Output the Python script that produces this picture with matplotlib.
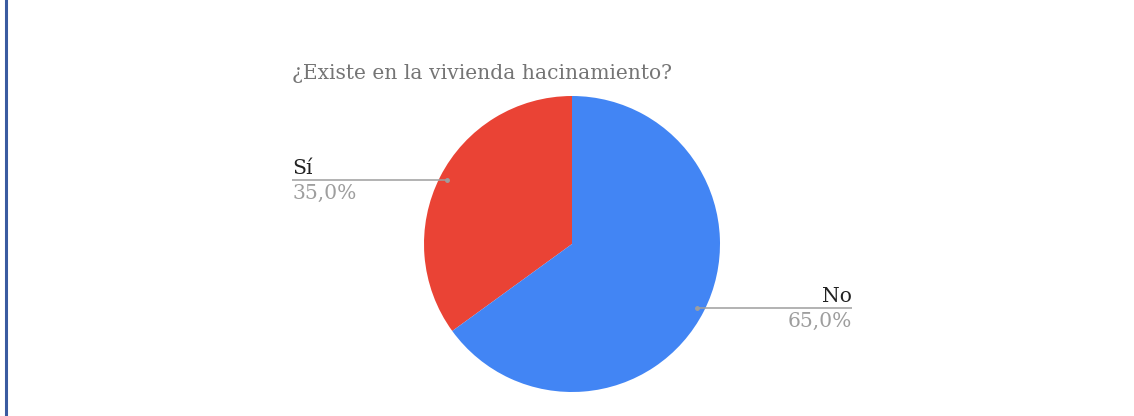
import numpy as np
import matplotlib.pyplot as plt

title = "¿Existe en la vivienda hacinamiento?"
labels = ["Sí", "No"]
values = [35.0, 65.0]
colors = ["#ea4335", "#4285f4"]

W, H = 1134, 416
cx, cy, R = 572, 244, 148  # pie centre and radius in pixels

fig = plt.figure(figsize=(W / 100, H / 100), dpi=100)
ax = fig.add_axes([0, 0, 1, 1])

wedges, _ = ax.pie(values, colors=colors, startangle=90, counterclock=True,
                   radius=1, center=(0, 0))

# data units: one unit = pie radius, origin at pie centre
ax.set_xlim(-cx / R, (W - cx) / R)
ax.set_ylim((cy - H) / R, cy / R)
ax.set_aspect("equal")
ax.axis("off")

serif = "DejaVu Serif"
fs = 14.6
ax.text(-1.89, (cy - 79) / R, title, fontsize=fs, color="#757575",
        family=serif, ha="left", va="baseline")

label_x = [-1.89, 1.89]
for w, lab, val, lx in zip(wedges, labels, values, label_x):
    mid = np.deg2rad((w.theta1 + w.theta2) / 2)
    px, py = 0.95 * np.cos(mid), 0.95 * np.sin(mid)
    ax.plot([px, lx], [py, py], color="#9e9e9e", lw=1.1, solid_capstyle="butt")
    ax.plot(px, py, "o", ms=2.5, color="#9e9e9e")
    ha = "left" if lx < 0 else "right"
    ax.text(lx, py + 0.04, lab, fontsize=fs, color="#222222", family=serif,
            ha=ha, va="baseline")
    ax.text(lx, py - 0.025, f"{val:.1f}%".replace(".", ","), fontsize=fs,
            color="#9e9e9e", family=serif, ha=ha, va="top")

# blue rule along the left edge
fig.add_artist(plt.Line2D([5.5 / W, 5.5 / W], [0, 1], color="#3a5ba0", lw=2.2,
                          transform=fig.transFigure))

fig.savefig("out.png", dpi=100)
